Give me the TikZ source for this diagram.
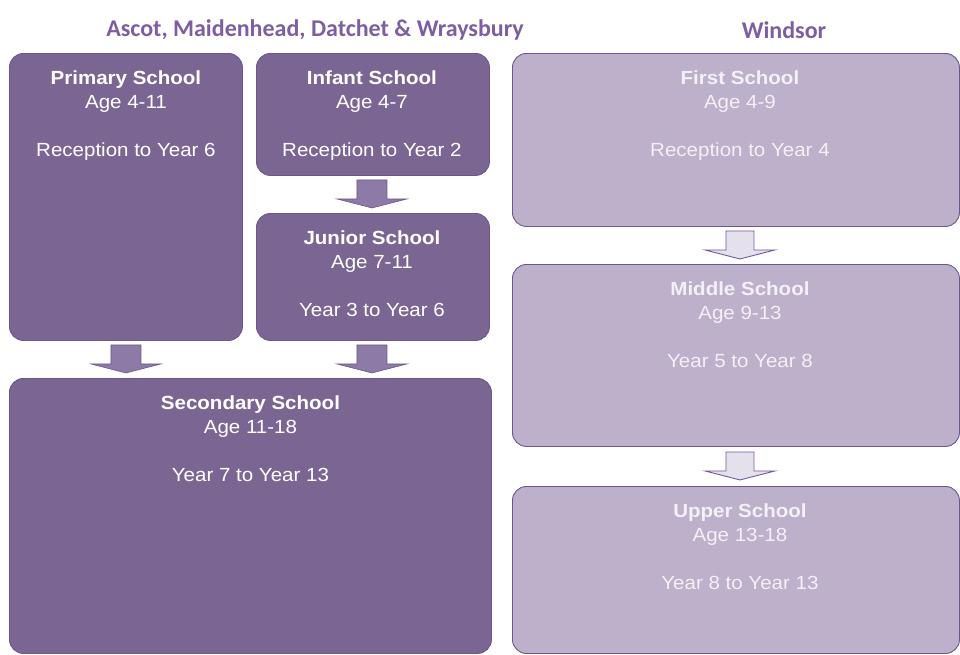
\documentclass[tikz,border=0pt]{standalone}
\usepackage{fontspec}
\setmainfont{Liberation Sans}[FakeStretch=1.08]
\newfontfamily\headfont{Carlito}
\usetikzlibrary{calc}

\definecolor{headpurple}{HTML}{7E5EA2}
\definecolor{darkfill}{HTML}{7B6693}
\definecolor{darkarrow}{HTML}{8D7AA6}
\definecolor{boxline}{HTML}{6C5690}
\definecolor{lightfill}{HTML}{BCB0CB}
\definecolor{lightarrow}{HTML}{E5E1EC}
\definecolor{lightline}{HTML}{7458A0}
\definecolor{lighttext}{HTML}{F3F1F6}

\tikzset{
  heading/.style={font=\headfont\fontsize{24}{28}\selectfont\bfseries, text=headpurple, inner sep=0pt},
  schoolbox/.style={rectangle, rounded corners=14pt, line width=0.9pt, draw=boxline, inner sep=0pt, anchor=north west},
  darkbox/.style={schoolbox, fill=darkfill},
  lightbox/.style={schoolbox, fill=lightfill},
  boxtext/.style={font=\fontsize{19}{24}\selectfont, align=center, inner sep=0pt, anchor=north},
  darktext/.style={boxtext, text=white},
  lighttext/.style={boxtext, text=lighttext},
  darkstep/.style={fill=darkarrow, draw=boxline, line width=0.6pt, line join=miter},
  lightstep/.style={fill=lightarrow, draw=lightline, line width=0.9pt, line join=miter},
}

% block arrow pointing down; #2 is the coordinate of its top centre
\newcommand{\schoolarrow}[4]{% #1 style, #2 top centre, #3 shaft half width, #4 head half width
  \draw[#1] ($(#2)+(-#3,0)$) -- ($(#2)+(#3,0)$) -- ($(#2)+(#3,19)$) -- ($(#2)+(#4,19)$)
    -- ($(#2)+(0,28)$) -- ($(#2)+(-#4,19)$) -- ($(#2)+(-#3,19)$) -- cycle;}

\begin{document}
\begin{tikzpicture}[x=1pt,y=-1pt]
  \useasboundingbox (0,0) rectangle (960,654);

  % column headings
  \node[heading] (hleft) at (315,30) {Ascot, Maidenhead, Datchet \& Wraysbury};
  \node[heading] (hright) at (784,30) {Windsor};

  % Ascot, Maidenhead, Datchet & Wraysbury
  \node[darkbox, minimum width=233, minimum height=287] (primary) at (9,53) {};
  \node[darkbox, minimum width=233, minimum height=122] (infant) at (256,53) {};
  \node[darkbox, minimum width=233, minimum height=127] (junior) at (256,213) {};
  \node[darkbox, minimum width=482, minimum height=275] (secondary) at (9,378) {};

  \node[darktext] (primaryT) at ($(primary.north)+(0,18)$)
    {\textbf{Primary School}\\Age 4-11\\[24pt]Reception to Year 6};
  \node[darktext] (infantT) at ($(infant.north)+(-1,18)$)
    {\textbf{Infant School}\\Age 4-7\\[24pt]Reception to Year 2};
  \node[darktext] (juniorT) at ($(junior.north)+(-1,18)$)
    {\textbf{Junior School}\\Age 7-11\\[24pt]Year 3 to Year 6};
  \node[darktext] (secondaryT) at ($(secondary.north)+(0,18)$)
    {\textbf{Secondary School}\\Age 11-18\\[24pt]Year 7 to Year 13};

  \coordinate (a1) at ($($(infant.south)!0.5!(junior.north)$)+(-1,-14.5)$);
  \coordinate (a2) at ($($(primary.south)!0.5!(primary.south |- secondary.north)$)+(0,-14.5)$);
  \coordinate (a3) at ($($(junior.south)!0.5!(junior.south |- secondary.north)$)+(-1,-14.5)$);
  \schoolarrow{darkstep}{a1}{15}{35}
  \schoolarrow{darkstep}{a2}{15}{35}
  \schoolarrow{darkstep}{a3}{15}{35}

  % Windsor
  \node[lightbox, minimum width=447, minimum height=173] (first) at (512,53) {};
  \node[lightbox, minimum width=447, minimum height=182] (middle) at (512,264) {};
  \node[lightbox, minimum width=447, minimum height=167] (upper) at (512,486) {};

  \node[lighttext] (firstT) at ($(first.north)+(4,18)$)
    {\textbf{First School}\\Age 4-9\\[24pt]Reception to Year 4};
  \node[lighttext] (middleT) at ($(middle.north)+(4,18)$)
    {\textbf{Middle School}\\Age 9-13\\[24pt]Year 5 to Year 8};
  \node[lighttext] (upperT) at ($(upper.north)+(4,18)$)
    {\textbf{Upper School}\\Age 13-18\\[24pt]Year 8 to Year 13};

  \coordinate (b1) at ($($(first.south)!0.5!(middle.north)$)+(4,-14.5)$);
  \coordinate (b2) at ($($(middle.south)!0.5!(upper.north)$)+(4,-14.5)$);
  \schoolarrow{lightstep}{b1}{14}{35}
  \schoolarrow{lightstep}{b2}{14}{35}
\end{tikzpicture}
\end{document}
